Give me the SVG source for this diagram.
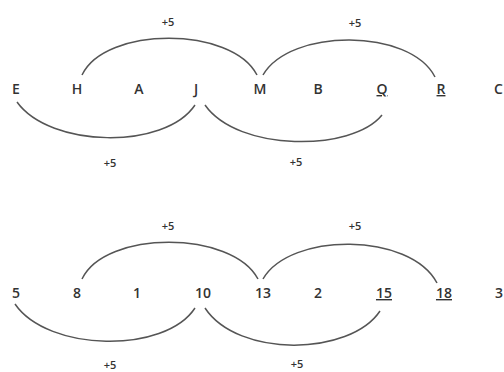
<svg xmlns="http://www.w3.org/2000/svg" width="504" height="372" viewBox="0 0 504 372">
<style>
.n{font-family:"Open Sans","Liberation Sans",sans-serif;font-size:14px;font-weight:600;fill:#333;text-anchor:middle}
.e{text-anchor:start}
.u{text-decoration:underline}
.l{font-family:"Open Sans","Liberation Sans",sans-serif;font-size:11px;font-weight:600;fill:#333;text-anchor:middle}
.c{fill:none;stroke:#555;stroke-width:1.5}
</style>
<rect width="504" height="372" fill="#fff"/>
<g id="connectors">
<path class="c" d="M82,75 C105,26 232,26 257,75"/>
<path class="c" d="M263,75 C290,28 410,28 435,77"/>
<path class="c" d="M17,102 C50,148 165,150 195,105"/>
<path class="c" d="M205,105 C238,152 352,152 382,115"/>
<path class="c" d="M82,279 C105,230 232,230 258,279"/>
<path class="c" d="M263,279 C290,232 410,232 437,283"/>
<path class="c" d="M15,304 C48,352 165,354 195,308"/>
<path class="c" d="M205,308 C238,358 350,356 380,311"/>
</g>
<g id="labels">
<text class="l" x="168" y="26">+5</text>
<text class="l" x="355" y="27">+5</text>
<text class="l" x="110" y="167">+5</text>
<text class="l" x="296" y="166">+5</text>
<text class="l" x="168" y="230">+5</text>
<text class="l" x="355" y="230">+5</text>
<text class="l" x="110" y="369">+5</text>
<text class="l" x="297" y="368">+5</text>
</g>
<g id="n-E"><text class="n" x="16" y="94">E</text></g>
<g id="n-H"><text class="n" x="77" y="94">H</text></g>
<g id="n-A"><text class="n" x="139" y="94">A</text></g>
<g id="n-J"><text class="n" x="196" y="94">J</text></g>
<g id="n-M"><text class="n" x="260" y="94">M</text></g>
<g id="n-B"><text class="n" x="318" y="94">B</text></g>
<g id="n-Q"><text class="n u" x="382" y="94">Q</text></g>
<g id="n-R"><text class="n u" x="441" y="94">R</text></g>
<g id="n-C"><text class="n e" x="494" y="94">C</text></g>
<g id="n-5"><text class="n" x="16" y="298">5</text></g>
<g id="n-8"><text class="n" x="77" y="298">8</text></g>
<g id="n-1"><text class="n" x="137" y="298">1</text></g>
<g id="n-10"><text class="n" x="203" y="298">10</text></g>
<g id="n-13"><text class="n" x="263" y="298">13</text></g>
<g id="n-2"><text class="n" x="318" y="298">2</text></g>
<g id="n-15"><text class="n u" x="384" y="298">15</text></g>
<g id="n-18"><text class="n u" x="444" y="298">18</text></g>
<g id="n-3"><text class="n e" x="495" y="298">3</text></g>
</svg>
